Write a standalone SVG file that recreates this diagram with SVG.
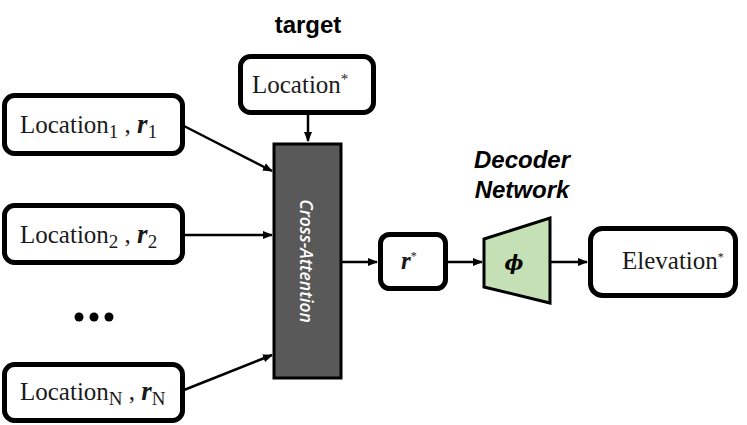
<svg xmlns="http://www.w3.org/2000/svg" width="747" height="425" viewBox="0 0 747 425">
<style>
.box{fill:#fff;stroke:#000;stroke-width:5}
.lbl{font-family:"Liberation Serif",serif;font-size:25px;fill:#1a1a1a}
.sub{font-size:19px}
.r{font-weight:bold;font-style:italic;font-size:27px}
.head{font-family:"Liberation Sans",Arial,sans-serif;font-weight:bold;font-size:24px;fill:#000}
.conn{stroke:#000;stroke-width:2.5;fill:none;marker-end:url(#ah)}
</style>
<defs>
<marker id="ah" markerWidth="10" markerHeight="10" refX="9" refY="5" orient="auto" markerUnits="userSpaceOnUse">
<path d="M0,1 L10,5 L0,9 Z" fill="#000"/>
</marker>
</defs>
<g id="connectors">
<line class="conn" x1="184" y1="126" x2="272" y2="171"/>
<line class="conn" x1="185" y1="235" x2="272" y2="235"/>
<line class="conn" x1="184" y1="390" x2="272" y2="355"/>
<line class="conn" x1="308" y1="115" x2="308" y2="141"/>
<line class="conn" x1="342" y1="262" x2="377" y2="262"/>
<line class="conn" x1="447" y1="262" x2="482" y2="262"/>
<line class="conn" x1="550" y1="262" x2="587" y2="262"/>
</g>
<g id="target-label"><text class="head" x="308" y="33" text-anchor="middle">target</text></g>
<g id="target">
<rect class="box" x="240.5" y="56.5" width="133" height="56" rx="10"/>
<text class="lbl" x="252" y="93">Location<tspan font-size="15" dy="-9">*</tspan></text>
</g>
<g id="loc1">
<rect class="box" x="4.5" y="95.5" width="178" height="58" rx="10"/>
<text class="lbl" x="20" y="133">Location<tspan class="sub" dy="5">1</tspan><tspan dy="-5"> , </tspan><tspan class="r">r</tspan><tspan class="sub" dy="5">1</tspan></text>
</g>
<g id="loc2">
<rect class="box" x="4.5" y="205.5" width="178" height="57" rx="10"/>
<text class="lbl" x="20" y="243">Location<tspan class="sub" dy="5">2</tspan><tspan dy="-5"> , </tspan><tspan class="r">r</tspan><tspan class="sub" dy="5">2</tspan></text>
</g>
<g id="dots">
<circle cx="79" cy="317" r="4.5"/>
<circle cx="94" cy="317" r="4.5"/>
<circle cx="109" cy="317" r="4.5"/>
</g>
<g id="locN">
<rect class="box" x="4.5" y="364.5" width="178" height="56" rx="10"/>
<text class="lbl" x="20" y="400">Location<tspan class="sub" dy="5">N</tspan><tspan dy="-5"> , </tspan><tspan class="r">r</tspan><tspan class="sub" dy="5">N</tspan></text>
</g>
<g id="cross-attention">
<rect x="274" y="144" width="67" height="234" fill="#595959" stroke="#000" stroke-width="3"/>
<text transform="translate(300 261) rotate(90)" text-anchor="middle" font-family="'Open Sans','Liberation Sans',sans-serif" font-style="italic" font-weight="600" font-size="17.5" fill="#fff">Cross-Attention</text>
</g>
<g id="rstar">
<rect class="box" x="380.5" y="234.5" width="65" height="54" rx="9"/>
<text class="lbl" x="401" y="269" font-size="22"><tspan font-weight="bold" font-style="italic">r</tspan><tspan font-size="12" dy="-9">*</tspan></text>
</g>
<g id="decoder-label">
<text class="head" font-style="italic" font-size="25" x="522" y="168" text-anchor="middle">Decoder</text>
<text class="head" font-style="italic" font-size="25" x="522" y="198" text-anchor="middle">Network</text>
</g>
<g id="decoder">
<polygon points="484,239 550,218 550,303 484,287" fill="#c5e0b4" stroke="#000" stroke-width="3" stroke-linejoin="miter"/>
<text x="514" y="270" text-anchor="middle" font-family="'DejaVu Serif',serif" font-weight="bold" font-style="italic" font-size="20" fill="#000">ϕ</text>
</g>
<g id="elevation">
<rect class="box" x="590.5" y="228.5" width="145" height="67" rx="12"/>
<text class="lbl" x="622" y="269" font-size="19">Elevation<tspan font-size="12" dy="-8">*</tspan></text>
</g>
</svg>
